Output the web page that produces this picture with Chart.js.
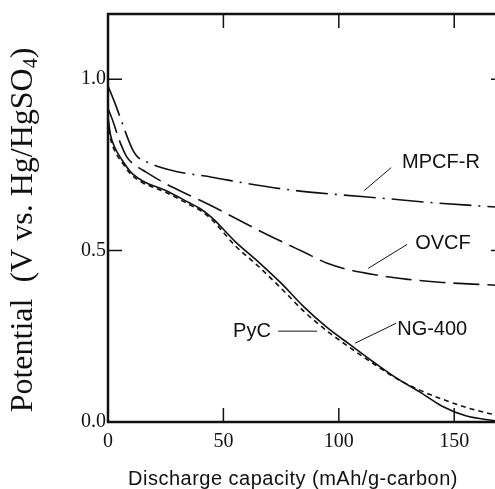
<!DOCTYPE html>
<html>
<head>
<meta charset="utf-8">
<title>Discharge curves</title>
<script src="https://cdn.jsdelivr.net/npm/chart.js@4.4.1/dist/chart.umd.min.js"></script>
<style>
  html, body { margin: 0; padding: 0; background: #fff; overflow: hidden; }
  #wrap { width: 495px; height: 489px; overflow: hidden; }
</style>
</head>
<body>
<div id="wrap"><canvas id="chart" width="506" height="489"></canvas></div>
<script>
// Discharge capacity (mAh/g-carbon) and potential (V vs. Hg/HgSO4)
const pycCap = [0, 1, 3, 6, 10, 15, 25, 35, 40, 45, 50, 55, 65, 75, 85, 95, 105, 115, 125, 135, 145, 155, 168];
const pycPot = [0.89, 0.84, 0.80, 0.765, 0.728, 0.703, 0.675, 0.640, 0.622, 0.596, 0.562, 0.527, 0.468, 0.405, 0.335, 0.275, 0.225, 0.175, 0.128, 0.088, 0.045, 0.018, 0.003];

const ngCap = [0, 1, 3, 6, 10, 15, 25, 35, 40, 45, 50, 55, 65, 75, 85, 95, 105, 115, 125, 135, 145, 155, 165, 168];
const ngPot = [0.88, 0.83, 0.79, 0.758, 0.722, 0.698, 0.670, 0.635, 0.617, 0.590, 0.553, 0.515, 0.455, 0.390, 0.322, 0.265, 0.216, 0.170, 0.127, 0.093, 0.066, 0.043, 0.025, 0.021];

const ovcfCap = [0, 2, 5, 8, 11, 15, 25, 35, 45, 55, 65, 75, 85, 95, 105, 115, 130, 145, 168];
const ovcfPot = [0.915, 0.88, 0.82, 0.775, 0.752, 0.735, 0.695, 0.662, 0.630, 0.595, 0.560, 0.527, 0.495, 0.463, 0.443, 0.430, 0.416, 0.407, 0.399];

const mpcfCap = [0, 3, 6, 9, 11, 13, 17, 23, 30, 45, 60, 80, 100, 120, 140, 168];
const mpcfPot = [0.98, 0.93, 0.875, 0.82, 0.79, 0.772, 0.758, 0.742, 0.730, 0.714, 0.696, 0.676, 0.663, 0.652, 0.640, 0.627];

const xTicks = [0, 50, 100, 150];
const yTicks = [0, 0.5, 1.0];

// curve labels: text anchor and leader line, in data units
const curveLabels = [
  { text: 'MPCF-R', at: [127.4, 0.742], from: [122.7, 0.742], to: [111.0, 0.675] },
  { text: 'OVCF',   at: [133.1, 0.506], from: [129.6, 0.518], to: [112.7, 0.448] },
  { text: 'NG-400', at: [125.3, 0.253], from: [124.8, 0.288], to: [107.1, 0.230] },
  { text: 'PyC',    at: [54.2, 0.247],  from: [73.7, 0.265],  to: [90.6, 0.265] }
];

const ink = '#111';
const tickLen = 14;

function pts(xs, ys) {
  return xs.map((x, i) => ({ x: x, y: ys[i] }));
}

const framePlugin = {
  id: 'frame',
  afterDraw(chart) {
    const { ctx, chartArea: a, scales: { x, y } } = chart;
    ctx.save();
    ctx.strokeStyle = ink;
    ctx.lineWidth = 2.5;
    ctx.strokeRect(a.left, a.top, a.right - a.left, a.bottom - a.top);

    // inward ticks on all four sides
    ctx.lineWidth = 1.5;
    ctx.beginPath();
    xTicks.forEach(v => {
      if (v === 0) return;
      const px = x.getPixelForValue(v);
      ctx.moveTo(px, a.bottom); ctx.lineTo(px, a.bottom - tickLen);
      ctx.moveTo(px, a.top); ctx.lineTo(px, a.top + tickLen);
    });
    yTicks.forEach(v => {
      if (v === 0) return;
      const py = y.getPixelForValue(v);
      ctx.moveTo(a.left, py); ctx.lineTo(a.left + tickLen, py);
      ctx.moveTo(a.right, py); ctx.lineTo(a.right - tickLen, py);
    });
    ctx.stroke();

    // curve names with leader lines
    ctx.lineWidth = 1;
    ctx.fillStyle = ink;
    ctx.font = '20px "Liberation Sans", Arial, sans-serif';
    ctx.textAlign = 'left';
    ctx.textBaseline = 'alphabetic';
    curveLabels.forEach(l => {
      ctx.beginPath();
      ctx.moveTo(x.getPixelForValue(l.from[0]), y.getPixelForValue(l.from[1]));
      ctx.lineTo(x.getPixelForValue(l.to[0]), y.getPixelForValue(l.to[1]));
      ctx.stroke();
      ctx.fillText(l.text, x.getPixelForValue(l.at[0]), y.getPixelForValue(l.at[1]));
    });

    // x axis title
    ctx.letterSpacing = '0.5px';
    ctx.textAlign = 'center';
    ctx.fillText('Discharge capacity (mAh/g-carbon)', 293, 485);
    ctx.letterSpacing = '0px';

    // y axis title with subscript 4
    const big = '32px "Liberation Serif", "Times New Roman", serif';
    const small = '20px "Liberation Serif", "Times New Roman", serif';
    const partA = 'Potential  (V vs. Hg/HgSO';
    const partB = '4';
    const partC = ')';
    ctx.translate(32, 230);
    ctx.rotate(-Math.PI / 2);
    ctx.textAlign = 'left';
    ctx.font = big;
    const wA = ctx.measureText(partA).width;
    const wC = ctx.measureText(partC).width;
    ctx.font = small;
    const wB = ctx.measureText(partB).width;
    let cx = -(wA + wB + wC) / 2;
    ctx.font = big;
    ctx.fillText(partA, cx, 0);
    cx += wA;
    ctx.font = small;
    ctx.fillText(partB, cx, 5);
    cx += wB;
    ctx.font = big;
    ctx.fillText(partC, cx, 0);
    ctx.restore();
  }
};

const lineStyle = {
  borderColor: ink,
  borderWidth: 1.6,
  pointRadius: 0,
  fill: false,
  cubicInterpolationMode: 'monotone'
};

new Chart(document.getElementById('chart'), {
  type: 'line',
  data: {
    datasets: [
      Object.assign({ label: 'PyC', data: pts(pycCap, pycPot) }, lineStyle),
      Object.assign({ label: 'NG-400', data: pts(ngCap, ngPot), borderDash: [5, 4] }, lineStyle),
      Object.assign({ label: 'OVCF', data: pts(ovcfCap, ovcfPot), borderDash: [26, 8] }, lineStyle),
      Object.assign({ label: 'MPCF-R', data: pts(mpcfCap, mpcfPot), borderDash: [32, 7, 2, 7] }, lineStyle)
    ]
  },
  options: {
    responsive: false,
    animation: false,
    layout: { padding: { top: 13, right: 1, left: 0, bottom: 0 } },
    plugins: { legend: { display: false }, tooltip: { enabled: false } },
    scales: {
      x: {
        type: 'linear',
        min: 0,
        max: 172,
        grid: { display: false, drawTicks: false },
        border: { display: false },
        afterBuildTicks: s => { s.ticks = xTicks.map(v => ({ value: v })); },
        afterFit: s => { s.height = 67; },
        ticks: {
          padding: 8,
          maxRotation: 0,
          color: ink,
          font: { family: '"Liberation Serif", "Times New Roman", serif', size: 20 },
          callback: v => String(v)
        }
      },
      y: {
        type: 'linear',
        min: 0,
        max: 1.19,
        grid: { display: false, drawTicks: false },
        border: { display: false },
        afterBuildTicks: s => { s.ticks = yTicks.map(v => ({ value: v })); },
        afterFit: s => { s.width = 108; },
        ticks: {
          padding: 2,
          color: ink,
          font: { family: '"Liberation Serif", "Times New Roman", serif', size: 20 },
          callback: v => Number(v).toFixed(1)
        }
      }
    }
  },
  plugins: [framePlugin]
});
</script>
</body>
</html>
